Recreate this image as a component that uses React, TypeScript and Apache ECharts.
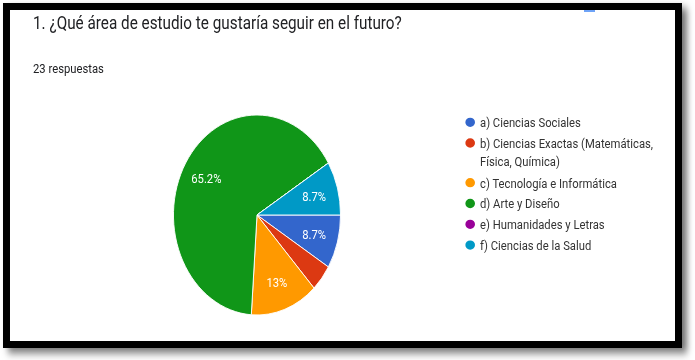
import React, { useEffect, useRef } from "react";
import * as echarts from "echarts";

// Horizontal squeeze of the original screenshot
const SX = 0.8353;
const u = (x: number) => x / SX;

const titleText = "1. ¿Qué área de estudio te gustaría seguir en el futuro?";
const subtitleText = "23 respuestas";

const categories = [
  "a) Ciencias Sociales",
  "b) Ciencias Exactas (Matemáticas, Física, Química)",
  "c) Tecnología e Informática",
  "d) Arte y Diseño",
  "e) Humanidades y Letras",
  "f) Ciencias de la Salud",
];
const responses = [2, 1, 3, 15, 0, 2];
const sliceColors = ["#3366cc", "#dc3912", "#ff9900", "#109618", "#990099", "#0099c6"];

const FONT = "Roboto";
const PIE_CX = u(257);
const PIE_CY = 215;
const PIE_R = 100;
const LABEL_R = 71;
const ICON = "path://M0 50A50 50 0 1 0 100 50A50 50 0 1 0 0 50Z";

export default function App() {
  const ref = useRef<HTMLDivElement>(null);
  useEffect(() => {
    if (!ref.current) return;
    const chart = echarts.init(ref.current, null, { renderer: "svg" });
    const total = responses.reduce((a, b) => a + b, 0);
    const midAngles: number[] = [];
    let acc = 0;
    responses.forEach((v) => {
      midAngles.push(((acc + v / 2) / total) * Math.PI * 2);
      acc += v;
    });

    const legendText = {
      fontSize: 13.5,
      fontFamily: FONT,
      color: "#333333",
      lineHeight: 18,
    };
    const legendBase = {
      orient: "vertical" as const,
      left: u(463.7),
      padding: 0,
      icon: ICON,
      itemWidth: u(11.3),
      itemHeight: 11.3,
      symbolKeepAspect: false,
      selectedMode: false,
      textStyle: legendText,
    };

    chart.setOption({
      animation: false,
      backgroundColor: "#ffffff",
      color: sliceColors,
      title: {
        text: titleText,
        subtext: subtitleText,
        left: u(33),
        top: 11,
        padding: 0,
        itemGap: 26.5,
        textStyle: {
          fontSize: 18.3,
          fontWeight: "normal",
          fontFamily: FONT,
          color: "#202124",
          lineHeight: 22,
        },
        subtextStyle: {
          fontSize: 13.5,
          fontFamily: FONT,
          color: "#202124",
          lineHeight: 18,
        },
      },
      graphic: [
        {
          type: "rect",
          z: -10,
          shape: { x: u(3), y: 3, width: u(682) - u(3), height: 345 },
          style: {
            fill: "#000",
            shadowBlur: 8,
            shadowColor: "rgba(0,0,0,0.55)",
            shadowOffsetX: 6,
            shadowOffsetY: 5,
          },
        },
        {
          type: "rect",
          z: -9,
          shape: { x: u(10), y: 10, width: u(675) - u(10), height: 331 },
          style: { fill: "#fff" },
        },
        {
          type: "rect",
          z: -8,
          shape: { x: u(584), y: 10, width: u(11), height: 2 },
          style: { fill: "#6ea3f7" },
        },
      ],
      legend: [
        { ...legendBase, top: 122.3 - 9, data: [categories[0]] },
        {
          ...legendBase,
          top: 143 - 27,
          data: [categories[1]],
          formatter: (name: string) =>
            "\n" + name.replace("(Matemáticas, ", "(Matemáticas,\n"),
        },
        {
          ...legendBase,
          top: 182.7 - 9,
          itemGap: 2.8,
          data: categories.slice(2),
        },
      ],
      series: [
        {
          type: "pie",
          center: [PIE_CX, PIE_CY],
          radius: [0, PIE_R],
          startAngle: 0,
          clockwise: true,
          silent: true,
          percentPrecision: 1,
          avoidLabelOverlap: false,
          itemStyle: { borderColor: "#ffffff", borderWidth: 1 },
          emphasis: { disabled: true },
          labelLine: { show: false },
          label: {
            show: true,
            position: "inside",
            color: "#ffffff",
            fontSize: 13.5,
            fontFamily: FONT,
            formatter: (p: any) => (p.percent < 5 ? "" : p.percent + "%"),
          },
          labelLayout: (p: any) => {
            const a = midAngles[p.dataIndex];
            return {
              x: PIE_CX + LABEL_R * Math.cos(a),
              y: PIE_CY + LABEL_R * Math.sin(a),
              align: "center",
              verticalAlign: "middle",
            };
          },
          data: categories.map((name, i) => ({ name, value: responses[i] })),
        },
      ],
    });
    return () => chart.dispose();
  }, []);

  return (
    <div
      style={{
        position: "absolute",
        left: 0,
        top: 0,
        width: 695,
        height: 360,
        overflow: "hidden",
        background: "#fff",
      }}
    >
      <div
        ref={ref}
        style={{
          width: u(695),
          height: 360,
          transform: `scaleX(${SX})`,
          transformOrigin: "0 0",
        }}
      />
    </div>
  );
}
